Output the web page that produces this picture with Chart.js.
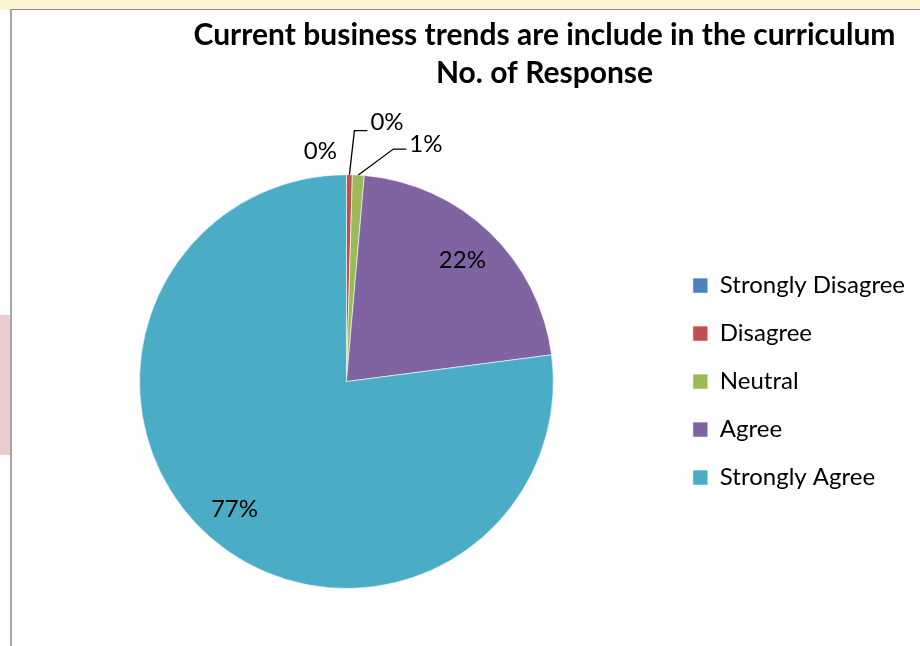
<!DOCTYPE html>
<html>
<head>
<meta charset="utf-8">
<script src="https://cdn.jsdelivr.net/npm/chart.js@4/dist/chart.umd.min.js"></script>
<style>
    html, body { margin: 0; padding: 0; width: 920px; height: 646px; overflow: hidden; background: #fdfdfd; }
    .topStrip { position: absolute; left: 0; top: 0; width: 920px; height: 10px; background: #fcf6d2; }
    .pinkBlock { position: absolute; left: 0; top: 315px; width: 10px; height: 140px; background: #ebcdd0; }
    .frame { position: absolute; left: 10px; top: 9px; width: 930px; height: 660px; background: #fff;
             border-top: 1px solid #8a8a8a; border-left: 2px solid #a6a6a6; }
    #chart { position: absolute; left: 0; top: 0; }
</style>
</head>
<body>
<div class="topStrip"></div>
<div class="pinkBlock"></div>
<div class="frame"></div>
<canvas id="chart" width="920" height="646"></canvas>
<script>
// Данные диаграммы
const categories = ['Strongly Disagree', 'Disagree', 'Neutral', 'Agree', 'Strongly Agree'];
const responses = [0, 1, 2, 47, 168];
const sliceColors = ['#4F81BD', '#C0504D', '#9BBB59', '#8064A2', '#4BACC6'];
const titleLines = ['Current business trends are include in the curriculum', 'No. of Response'];

// Сдвиг заголовка: в Excel рамка диаграммы шире окна
const titleShift = {
    id: 'titleShift',
    afterLayout(chart, args, opts) {
        const t = chart.titleBlock;
        t.left = opts.center - opts.halfWidth;
        t.right = opts.center + opts.halfWidth;
    }
};

// Подписи процентов, у маленьких секторов — с выносками
const pctLabels = {
    id: 'pctLabels',
    afterDatasetsDraw(chart, args, opts) {
        const ctx = chart.ctx;
        const meta = chart.getDatasetMeta(0);
        const total = responses.reduce((a, b) => a + b, 0);
        ctx.save();
        ctx.font = opts.font;
        ctx.fillStyle = '#000';
        ctx.strokeStyle = '#000';
        ctx.lineWidth = 1.3;
        ctx.textBaseline = 'middle';
        meta.data.forEach((arc, i) => {
            const p = arc.getProps(['x', 'y', 'startAngle', 'endAngle', 'outerRadius'], true);
            const mid = (p.startAngle + p.endAngle) / 2;
            const text = Math.round(responses[i] / total * 100) + '%';
            const place = opts.placement[i];
            const ex = p.x + Math.cos(mid) * p.outerRadius;
            const ey = p.y + Math.sin(mid) * p.outerRadius;
            if (place.inside) {
                const r = p.outerRadius * place.inside;
                ctx.textAlign = 'center';
                ctx.fillText(text, p.x + Math.cos(mid) * r, p.y + Math.sin(mid) * r);
            } else if (place.run) {
                const kx = ex + place.dx, ky = ey + place.dy;
                ctx.beginPath();
                ctx.moveTo(ex, ey);
                ctx.lineTo(kx, ky);
                ctx.lineTo(kx + place.run, ky);
                ctx.stroke();
                ctx.textAlign = 'left';
                ctx.fillText(text, kx + place.run + 3, ky - place.lift);
            } else {
                ctx.textAlign = 'center';
                ctx.fillText(text, ex + place.dx, ey + place.dy);
            }
        });
        ctx.restore();
    }
};

new Chart(document.getElementById('chart'), {
    type: 'pie',
    data: {
        labels: categories,
        datasets: [{
            data: responses,
            backgroundColor: sliceColors,
            borderColor: 'rgba(255,255,255,0.6)',
            borderWidth: 1
        }]
    },
    options: {
        responsive: false,
        animation: false,
        events: [],
        layout: { padding: { left: 24, right: 5, top: 0, bottom: 57 } },
        plugins: {
            title: {
                display: true,
                text: titleLines,
                color: '#000',
                font: { family: 'Lato', size: 30, weight: 'bold', lineHeight: 1.27 },
                padding: { top: 16, bottom: 82 }
            },
            legend: {
                position: 'right',
                fullSize: false,
                labels: {
                    color: '#000',
                    font: { family: 'Lato', size: 24 },
                    boxWidth: 15,
                    boxHeight: 15,
                    padding: 24
                }
            },
            tooltip: { enabled: false },
            titleShift: { center: 544.5, halfWidth: 372 },
            pctLabels: {
                font: '24px Lato',
                placement: [
                    { dx: -26, dy: -23 },
                    { dx: 5, dy: -44, run: 13, lift: 8 },
                    { dx: 35, dy: -26, run: 13, lift: 5 },
                    { inside: 0.81 },
                    { inside: 0.82 }
                ]
            }
        }
    },
    plugins: [titleShift, pctLabels]
});
</script>
</body>
</html>
